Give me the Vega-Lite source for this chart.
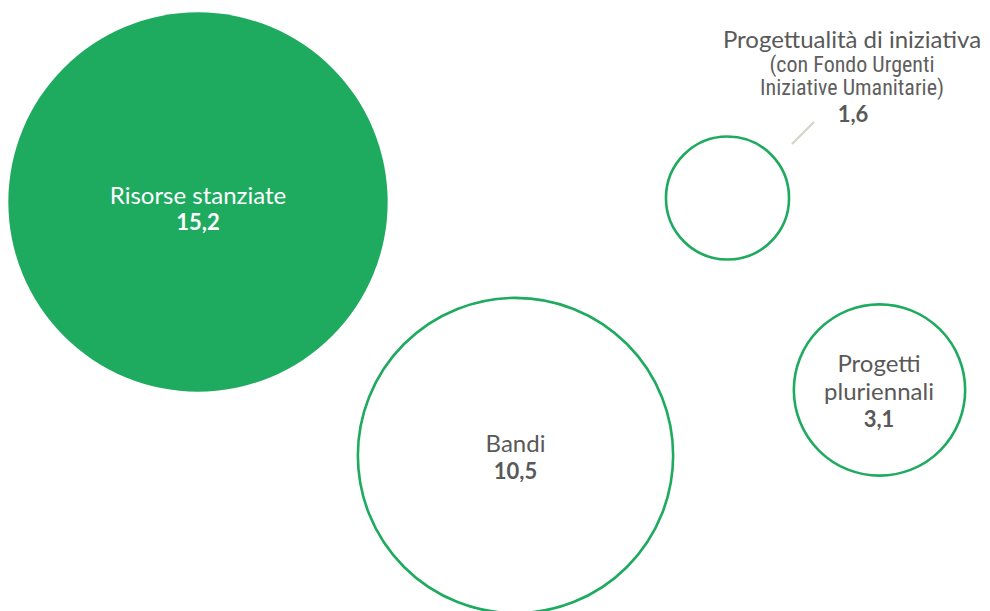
{
  "$schema": "https://vega.github.io/schema/vega-lite/v6.json",
  "width": 990,
  "height": 611,
  "autosize": {"type": "none"},
  "padding": 0,
  "background": "#ffffff",
  "config": {"view": {"stroke": null}},
  "datasets": {
    "bolle": [
      {"voce": "Risorse stanziate", "tipo": "totale", "valore": 15.2, "x": 198, "y": 202},
      {"voce": "Bandi", "tipo": "ripartizione", "valore": 10.5, "x": 515.5, "y": 455.5},
      {"voce": "Progettualità di iniziativa", "tipo": "ripartizione", "valore": 1.6, "x": 727.5, "y": 198},
      {"voce": "Progetti pluriennali", "tipo": "ripartizione", "valore": 3.1, "x": 879.5, "y": 390}
    ],
    "etichette": [
      {"testo": "Risorse stanziate", "ruolo": "nome-chiaro", "x": 198, "y": 203.5},
      {"testo": "15,2", "ruolo": "valore-chiaro", "x": 198, "y": 229.5},
      {"testo": "Bandi", "ruolo": "nome", "x": 515.5, "y": 452},
      {"testo": "10,5", "ruolo": "valore", "x": 515.5, "y": 478.5},
      {"testo": "Progetti", "ruolo": "nome", "x": 879, "y": 372},
      {"testo": "pluriennali", "ruolo": "nome", "x": 879, "y": 400},
      {"testo": "3,1", "ruolo": "valore", "x": 879, "y": 427},
      {"testo": "Progettualità di iniziativa", "ruolo": "nome", "x": 852, "y": 48},
      {"testo": "(con Fondo Urgenti", "ruolo": "nota", "x": 852, "y": 72},
      {"testo": "Iniziative Umanitarie)", "ruolo": "nota", "x": 852, "y": 95},
      {"testo": "1,6", "ruolo": "valore", "x": 853, "y": 122}
    ],
    "richiamo": [
      {"x": 792, "y": 144, "x2": 814, "y2": 122}
    ]
  },
  "layer": [
    {
      "data": {"name": "richiamo"},
      "mark": {"type": "rule", "color": "#d3d3cb", "strokeWidth": 2.2},
      "encoding": {
        "x": {"field": "x", "type": "quantitative", "scale": {"domain": [0, 990], "nice": false, "zero": false}, "axis": null},
        "y": {"field": "y", "type": "quantitative", "scale": {"domain": [0, 611], "nice": false, "zero": false, "reverse": true}, "axis": null},
        "x2": {"field": "x2"},
        "y2": {"field": "y2"}
      }
    },
    {
      "data": {"name": "bolle"},
      "mark": {"type": "point", "shape": "circle", "filled": true, "opacity": 1, "stroke": "#1eaa5f"},
      "encoding": {
        "x": {"field": "x", "type": "quantitative", "scale": {"domain": [0, 990], "nice": false, "zero": false}, "axis": null},
        "y": {"field": "y", "type": "quantitative", "scale": {"domain": [0, 611], "nice": false, "zero": false, "reverse": true}, "axis": null},
        "size": {"field": "valore", "type": "quantitative", "scale": {"type": "linear", "domain": [0, 10], "range": [0, 94670], "zero": true, "nice": false}, "legend": null},
        "fill": {"field": "tipo", "type": "nominal", "scale": {"domain": ["totale", "ripartizione"], "range": ["#1eaa5f", "#ffffff"]}, "legend": null},
        "strokeWidth": {"field": "tipo", "type": "nominal", "scale": {"domain": ["totale", "ripartizione"], "range": [0, 2.6]}, "legend": null}
      }
    },
    {
      "data": {"name": "etichette"},
      "transform": [{"filter": "datum.ruolo === 'nome' || datum.ruolo === 'nome-chiaro'"}],
      "mark": {"type": "text", "font": "Lato", "fontSize": 24, "baseline": "alphabetic", "align": "center"},
      "encoding": {
        "x": {"field": "x", "type": "quantitative", "scale": {"domain": [0, 990], "nice": false, "zero": false}, "axis": null},
        "y": {"field": "y", "type": "quantitative", "scale": {"domain": [0, 611], "nice": false, "zero": false, "reverse": true}, "axis": null},
        "text": {"field": "testo"},
        "color": {"field": "ruolo", "type": "nominal", "scale": {"domain": ["nome", "nome-chiaro", "valore", "valore-chiaro", "nota"], "range": ["#595959", "#ffffff", "#595959", "#ffffff", "#5f5f5f"]}, "legend": null}
      }
    },
    {
      "data": {"name": "etichette"},
      "transform": [{"filter": "datum.ruolo === 'valore' || datum.ruolo === 'valore-chiaro'"}],
      "mark": {"type": "text", "font": "Lato", "fontSize": 22, "fontWeight": "bold", "baseline": "alphabetic", "align": "center"},
      "encoding": {
        "x": {"field": "x", "type": "quantitative", "scale": {"domain": [0, 990], "nice": false, "zero": false}, "axis": null},
        "y": {"field": "y", "type": "quantitative", "scale": {"domain": [0, 611], "nice": false, "zero": false, "reverse": true}, "axis": null},
        "text": {"field": "testo"},
        "color": {"field": "ruolo", "type": "nominal", "scale": {"domain": ["nome", "nome-chiaro", "valore", "valore-chiaro", "nota"], "range": ["#595959", "#ffffff", "#595959", "#ffffff", "#5f5f5f"]}, "legend": null}
      }
    },
    {
      "data": {"name": "etichette"},
      "transform": [{"filter": "datum.ruolo === 'nota'"}],
      "mark": {"type": "text", "font": "Liberation Sans Narrow, Roboto Condensed, Roboto", "fontSize": 22, "baseline": "alphabetic", "align": "center"},
      "encoding": {
        "x": {"field": "x", "type": "quantitative", "scale": {"domain": [0, 990], "nice": false, "zero": false}, "axis": null},
        "y": {"field": "y", "type": "quantitative", "scale": {"domain": [0, 611], "nice": false, "zero": false, "reverse": true}, "axis": null},
        "text": {"field": "testo"},
        "color": {"field": "ruolo", "type": "nominal", "scale": {"domain": ["nome", "nome-chiaro", "valore", "valore-chiaro", "nota"], "range": ["#595959", "#ffffff", "#595959", "#ffffff", "#5f5f5f"]}, "legend": null}
      }
    }
  ],
  "resolve": {"scale": {"color": "shared"}}
}
